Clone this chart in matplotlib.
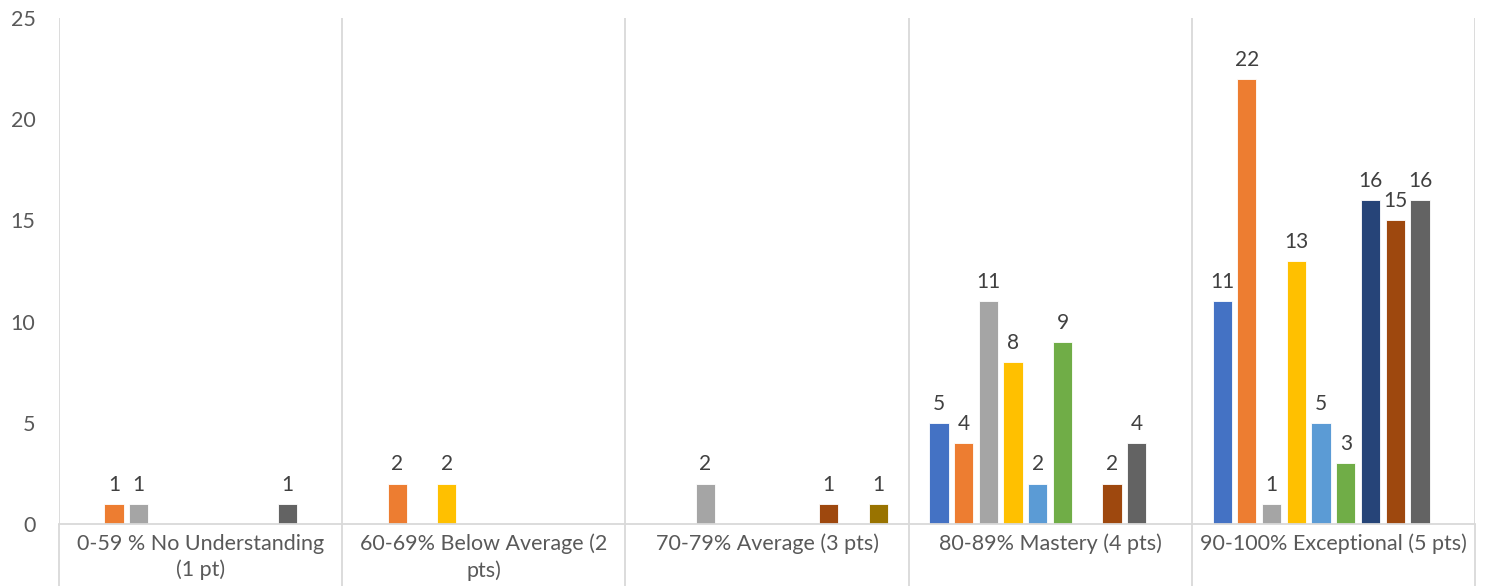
import numpy as np
import matplotlib.pyplot as plt

# category labels (Excel wraps the long ones)
categories = [
    "0-59 % No Understanding\n(1 pt)",
    "60-69% Below Average (2\npts)",
    "70-79% Average (3 pts)",
    "80-89% Mastery (4 pts)",
    "90-100% Exceptional (5 pts)",
]

# one list per series, None = empty cell
s1 = [None, None, None, 5, 11]
s2 = [1, 2, None, 4, 22]
s3 = [1, None, 2, 11, 1]
s4 = [None, 2, None, 8, 13]
s5 = [None, None, None, 2, 5]
s6 = [None, None, None, 9, 3]
s7 = [None, None, None, None, 16]
s8 = [None, None, 1, 2, 15]
s9 = [1, None, None, 4, 16]
s10 = [None, None, 1, None, None]

series = [s1, s2, s3, s4, s5, s6, s7, s8, s9, s10]
colors = ["#4472C4", "#ED7D31", "#A5A5A5", "#FFC000", "#5B9BD5",
          "#70AD47", "#264478", "#9E480E", "#636363", "#997300"]

plt.rcParams['font.family'] = ['Lato', 'DejaVu Sans']

fig = plt.figure(figsize=(14.87, 5.86), dpi=100)
ax = fig.add_axes([59 / 1487, 1 - 524 / 586, (1475 - 59) / 1487, (524 - 18) / 586])

x = np.arange(len(categories))
step = 0.0873
width = 0.068

for i, vals in enumerate(series):
    offs = (i - 4.5) * step
    for j, v in enumerate(vals):
        if v is None:
            continue
        ax.bar(x[j] + offs, v, width, color=colors[i], edgecolor="white", linewidth=0.6)
        ax.annotate(str(v), (x[j] + offs, v), xytext=(0, 6.5), textcoords="offset points",
                    ha="center", va="bottom", fontsize=15, color="#404040")

ax.set_xlim(-0.5, len(categories) - 0.5)
ax.set_ylim(0, 25)
ax.set_yticks(range(0, 26, 5))
ax.set_xticks(x)
ax.set_xticklabels(categories, fontsize=15.5, color="#595959", linespacing=1.35)

# separators between categories, running down through the label area
ax.set_xticks(np.arange(-0.5, len(categories)), minor=True)
ax.grid(which="minor", axis="x", color="#D9D9D9", linewidth=1.3)
ax.tick_params(axis="x", which="minor", length=45, width=1.3, color="#D9D9D9", direction="out")
ax.tick_params(axis="x", which="major", length=0, pad=7)
ax.tick_params(axis="y", length=0, labelsize=15.5, labelcolor="#595959", pad=17)

for side in ["top", "right", "left"]:
    ax.spines[side].set_visible(False)
ax.spines["bottom"].set_color("#D9D9D9")
ax.spines["bottom"].set_linewidth(1.3)

fig.savefig("out.png", dpi=100)
